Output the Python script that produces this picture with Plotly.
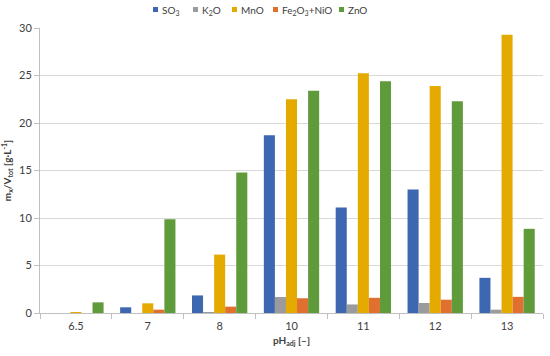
import plotly.graph_objects as go

categories = ["6.5", "7", "8", "10", "11", "12", "13"]
so3 = [0.0, 0.6, 1.85, 18.7, 11.1, 13.0, 3.7]
k2o = [0.0, 0.0, 0.05, 1.68, 0.9, 1.05, 0.35]
mno = [0.1, 1.02, 6.15, 22.5, 25.25, 23.9, 29.3]
fe2o3_nio = [0.0, 0.35, 0.67, 1.55, 1.6, 1.4, 1.7]
zno = [1.12, 9.87, 14.8, 23.4, 24.4, 22.3, 8.86]

series_names = ["SO<sub>3</sub>", "K<sub>2</sub>O", "MnO", "Fe<sub>2</sub>O<sub>3</sub>+NiO", "ZnO"]
series_values = [so3, k2o, mno, fe2o3_nio, zno]
series_colors = ["#3E67B1", "#9B9B9B", "#E5AA00", "#E07030", "#5F9B3A"]

W, H = 550, 356
ML, MR, MT, MB = 40, 7, 28, 43
PW, PH = W - ML - MR, H - MT - MB

def px_x(p):
    return (p - ML) / PW

def px_y(p):
    return 1 + (MT - p) / PH

fig = go.Figure()
for name, vals, color in zip(series_names, series_values, series_colors):
    fig.add_trace(go.Bar(x=categories, y=vals, name=name, marker_color=color,
                         marker_line_width=0, showlegend=False))

# legend drawn as small squares + text (Excel-style compact legend)
legend_left = [153, 193, 232, 273, 339]
shapes = []
annotations = []
for lx, name, color in zip(legend_left, series_names, series_colors):
    shapes.append(dict(type="rect", xref="paper", yref="paper",
                       x0=px_x(lx), x1=px_x(lx + 5), y0=px_y(12), y1=px_y(7),
                       fillcolor=color, line_width=0))
    annotations.append(dict(xref="paper", yref="paper", x=px_x(lx + 7), y=px_y(10),
                            xanchor="left", yanchor="middle", showarrow=False,
                            text=name, font=dict(size=10, color="#404040")))

fig.update_layout(
    width=W, height=H,
    margin=dict(l=ML, r=MR, t=MT, b=MB),
    plot_bgcolor="white", paper_bgcolor="white",
    font=dict(family="Lato, Open Sans, sans-serif", size=10, color="#404040"),
    barmode="group", bargap=0.23, bargroupgap=0,
    showlegend=False,
    shapes=shapes, annotations=annotations,
    xaxis=dict(
        type="category", tickson="boundaries", ticks="outside", ticklen=5,
        tickcolor="#BFBFBF", showline=True, linecolor="#BFBFBF", linewidth=1,
        showgrid=False, tickfont=dict(size=11, color="#404040"), automargin=False,
        ticklabelstandoff=3,
        title=dict(text="<b>pH<sub>adj</sub> [–]</b>", font=dict(size=10, color="#404040"), standoff=5),
    ),
    yaxis=dict(
        range=[0, 30], dtick=5, ticks="outside", ticklen=5, tickcolor="#BFBFBF",
        showline=True, linecolor="#BFBFBF", linewidth=1, automargin=False,
        showgrid=True, gridcolor="#D9D9D9", gridwidth=1, zeroline=False,
        tickfont=dict(size=11, color="#404040"),
        title=dict(text="<b>m<sub>x</sub>/V<sub>tot</sub> [g·L<sup>-1</sup>]</b>",
                   font=dict(size=10, color="#404040"), standoff=7),
    ),
)

fig.write_html("out.html", config={"displayModeBar": False},
               post_script="document.body.style.margin='0';document.body.style.padding='0';")
